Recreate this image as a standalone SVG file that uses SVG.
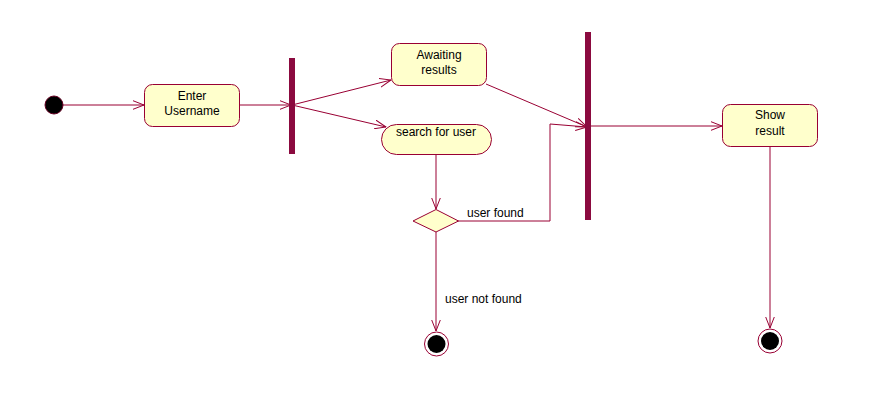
<svg xmlns="http://www.w3.org/2000/svg" width="872" height="405" viewBox="0 0 872 405">
<style>
.act{fill:#FFFFCC;stroke:#990033;stroke-width:1}
.bar{fill:#8B0A3F;stroke:none}
.ln{fill:none;stroke:#990033;stroke-width:1}
text{font-family:"Liberation Sans",Arial,sans-serif;font-size:12px;fill:#000}
.c{text-anchor:middle}
</style>
<defs>
<marker id="arr" viewBox="0 0 12 10" refX="11.5" refY="5" markerWidth="12" markerHeight="10" markerUnits="userSpaceOnUse" orient="auto">
<path d="M0,0.5 L11.5,5 L0,9.5" fill="none" stroke="#990033" stroke-width="1"/>
</marker>
</defs>
<rect width="872" height="405" fill="#fff"/>
<g id="connectors">
<line class="ln" x1="63" y1="105" x2="144" y2="105" marker-end="url(#arr)"/>
<line class="ln" x1="239" y1="105" x2="291" y2="105" marker-end="url(#arr)"/>
<line class="ln" x1="292" y1="105" x2="391" y2="80" marker-end="url(#arr)"/>
<line class="ln" x1="292" y1="105" x2="386" y2="127" marker-end="url(#arr)"/>
<line class="ln" x1="486" y1="84" x2="587" y2="127" marker-end="url(#arr)"/>
<line class="ln" x1="436" y1="155" x2="436" y2="209" marker-end="url(#arr)"/>
<polyline class="ln" points="458,221 550,221 550,124 587,127" marker-end="url(#arr)"/>
<line class="ln" x1="436" y1="232" x2="436" y2="331" marker-end="url(#arr)"/>
<line class="ln" x1="591" y1="126" x2="722" y2="126" marker-end="url(#arr)"/>
<line class="ln" x1="770" y1="146" x2="770" y2="328" marker-end="url(#arr)"/>
<text x="467" y="217">user found</text>
<text x="445" y="303">user not found</text>
</g>
<g id="start">
<circle cx="54" cy="105" r="9" fill="#000" stroke="#660022" stroke-width="1"/>
</g>
<g id="enter-username">
<rect class="act" x="144.5" y="84.5" width="95" height="42" rx="8"/>
<text class="c" x="192" y="100">Enter</text>
<text class="c" x="192" y="115">Username</text>
</g>
<g id="fork">
<rect class="bar" x="289" y="58" width="6" height="96"/>
</g>
<g id="awaiting-results">
<rect class="act" x="391.5" y="43.5" width="95" height="42" rx="8"/>
<text class="c" x="439" y="59">Awaiting</text>
<text class="c" x="439" y="74">results</text>
</g>
<g id="search-for-user">
<rect class="act" x="381.5" y="124.5" width="110" height="30" rx="15"/>
<text class="c" x="436" y="136">search for user</text>
</g>
<g id="decision">
<polygon class="act" points="436,209.5 458.5,221 436,232 413,221"/>
</g>
<g id="join">
<rect class="bar" x="585" y="32" width="6" height="188"/>
</g>
<g id="show-result">
<rect class="act" x="722.5" y="104.5" width="95" height="42" rx="8"/>
<text class="c" x="770" y="119">Show</text>
<text class="c" x="770" y="135">result</text>
</g>
<g id="end-not-found">
<circle cx="436.5" cy="344" r="12" fill="#fff" stroke="#990033" stroke-width="1"/>
<circle cx="436.5" cy="344" r="9" fill="#000"/>
</g>
<g id="end-found">
<circle cx="770" cy="341" r="12" fill="#fff" stroke="#990033" stroke-width="1"/>
<circle cx="770" cy="341" r="9" fill="#000"/>
</g>
</svg>
